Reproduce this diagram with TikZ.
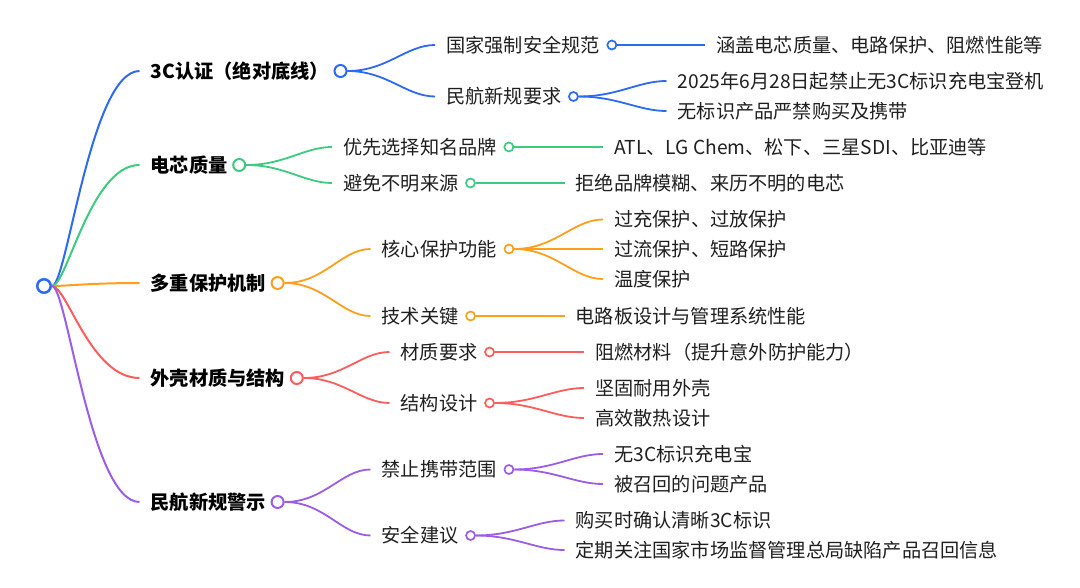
\documentclass[tikz,border=0pt]{standalone}
\usepackage{fontspec}
\setmainfont{Noto Sans CJK SC}
\usepackage{tikz}
\usetikzlibrary{positioning}
\usepackage{xcolor}

\definecolor{mmblue}{HTML}{2A6AF5}
\definecolor{mmgreen}{HTML}{3CCB7F}
\definecolor{mmorange}{HTML}{FF9F1C}
\definecolor{mmred}{HTML}{FF5C5C}
\definecolor{mmpurple}{HTML}{9B5CE6}

\tikzset{
  txt/.style={inner sep=0pt, anchor=west, text height=16.7pt, text depth=2.5pt,
    text=black!88, font=\fontsize{19.2}{22}\selectfont},
  head/.style={txt, text=black, font=\fontsize{19.2}{22}\selectfont\bfseries},
  knot/.style={circle, draw, fill=white, inner sep=0pt, minimum size=12pt, line width=2pt},
  dot/.style={circle, draw, fill=white, inner sep=0pt, minimum size=9pt, line width=1.7pt},
  link/.style={line width=1.8pt, shorten >=11pt},
  twig/.style={out=0, in=180}
}

\begin{document}
\begin{tikzpicture}[x=1pt,y=-1pt]
\useasboundingbox (0,0) rectangle (1080,588);
\node[knot, draw=mmblue, minimum size=13.5pt, line width=2.5pt] (root) at (44,286) {};
% main branches
\node[head] (cert) at (150.5,71) {3C认证（绝对底线）};
\node[head] (cell) at (150.5,165) {电芯质量};
\node[head] (prot) at (150.5,283) {多重保护机制};
\node[head] (shell) at (150.5,378) {外壳材质与结构};
\node[head] (rule) at (150.5,502) {民航新规警示};
\node[knot, draw=mmblue, right=4.5pt of cert] (certo) {};
\node[knot, draw=mmgreen, right=4.5pt of cell] (cello) {};
\node[knot, draw=mmorange, right=4.5pt of prot] (proto) {};
\node[knot, draw=mmred, right=4.5pt of shell] (shello) {};
\node[knot, draw=mmpurple, right=4.5pt of rule] (ruleo) {};
\draw[link, line width=2pt, mmblue] (root.east) .. controls +(15,0) and +(-60,0) .. (cert.west);
\draw[link, line width=2pt, mmgreen] (root.east) .. controls +(15,0) and +(-60,0) .. (cell.west);
\draw[link, line width=2pt, mmorange] (root.east) .. controls +(15,0) and +(-60,0) .. (prot.west);
\draw[link, line width=2pt, mmred] (root.east) .. controls +(15,0) and +(-60,0) .. (shell.west);
\draw[link, line width=2pt, mmpurple] (root.east) .. controls +(15,0) and +(-60,0) .. (rule.west);

% 3C
\node[txt] (std) at (446,45) {国家强制安全规范};
\node[txt] (caac) at (446,96.5) {民航新规要求};
\node[dot, draw=mmblue, right=6.5pt of std] (stdo) {};
\node[dot, draw=mmblue, right=6.5pt of caac] (caaco) {};
\node[txt] (cover) at (716,45) {涵盖电芯质量、电路保护、阻燃性能等};
\node[txt] (ban) at (677.5,81) {2025年6月28日起禁止无3C标识充电宝登机};
\node[txt] (nobuy) at (677.5,111) {无标识产品严禁购买及携带};
\draw[link, mmblue] (certo.east) to[twig] (std.west);
\draw[link, mmblue] (certo.east) to[twig] (caac.west);
\draw[link, mmblue] (stdo.east) to[twig] (cover.west);
\draw[link, mmblue] (caaco.east) to[twig] (ban.west);
\draw[link, mmblue] (caaco.east) to[twig] (nobuy.west);

% cells
\node[txt] (brand) at (343,147) {优先选择知名品牌};
\node[txt] (avoid) at (343,183) {避免不明来源};
\node[dot, draw=mmgreen, right=6.5pt of brand] (brando) {};
\node[dot, draw=mmgreen, right=6.5pt of avoid] (avoido) {};
\node[txt] (makers) at (614,147) {ATL、LG Chem、松下、三星SDI、比亚迪等};
\node[txt] (reject) at (575.5,183) {拒绝品牌模糊、来历不明的电芯};
\draw[link, mmgreen] (cello.east) to[twig] (brand.west);
\draw[link, mmgreen] (cello.east) to[twig] (avoid.west);
\draw[link, mmgreen] (brando.east) to[twig] (makers.west);
\draw[link, mmgreen] (avoido.east) to[twig] (reject.west);

% protection
\node[txt] (core) at (381.5,249) {核心保护功能};
\node[txt] (key) at (381.5,316) {技术关键};
\node[dot, draw=mmorange, right=6.5pt of core] (coreo) {};
\node[dot, draw=mmorange, right=6.5pt of key] (keyo) {};
\node[txt] (charge) at (614,219.5) {过充保护、过放保护};
\node[txt] (current) at (614,249) {过流保护、短路保护};
\node[txt] (temp) at (614,279) {温度保护};
\node[txt] (board) at (575.5,316) {电路板设计与管理系统性能};
\draw[link, mmorange] (proto.east) to[twig] (core.west);
\draw[link, mmorange] (proto.east) to[twig] (key.west);
\draw[link, mmorange] (coreo.east) to[twig] (charge.west);
\draw[link, mmorange] (coreo.east) to[twig] (current.west);
\draw[link, mmorange] (coreo.east) to[twig] (temp.west);
\draw[link, mmorange] (keyo.east) to[twig] (board.west);

% shell
\node[txt] (mat) at (400.5,352) {材质要求};
\node[txt] (struct) at (400.5,403) {结构设计};
\node[dot, draw=mmred, right=6.5pt of mat] (mato) {};
\node[dot, draw=mmred, right=6.5pt of struct] (structo) {};
\node[txt] (flame) at (595,352) {阻燃材料（提升意外防护能力）};
\node[txt] (solid) at (595,388) {坚固耐用外壳};
\node[txt] (heat) at (595,418) {高效散热设计};
\draw[link, mmred] (shello.east) to[twig] (mat.west);
\draw[link, mmred] (shello.east) to[twig] (struct.west);
\draw[link, mmred] (mato.east) to[twig] (flame.west);
\draw[link, mmred] (structo.east) to[twig] (solid.west);
\draw[link, mmred] (structo.east) to[twig] (heat.west);

% rules
\node[txt] (scope) at (381.5,469.5) {禁止携带范围};
\node[txt] (advice) at (381.5,535.5) {安全建议};
\node[dot, draw=mmpurple, right=6.5pt of scope] (scopeo) {};
\node[dot, draw=mmpurple, right=6.5pt of advice] (adviceo) {};
\node[txt] (nomark) at (614,454) {无3C标识充电宝};
\node[txt] (recall) at (614,484) {被召回的问题产品};
\node[txt] (check) at (575.5,520.5) {购买时确认清晰3C标识};
\node[txt] (follow) at (575.5,550) {定期关注国家市场监督管理总局缺陷产品召回信息};
\draw[link, mmpurple] (ruleo.east) to[twig] (scope.west);
\draw[link, mmpurple] (ruleo.east) to[twig] (advice.west);
\draw[link, mmpurple] (scopeo.east) to[twig] (nomark.west);
\draw[link, mmpurple] (scopeo.east) to[twig] (recall.west);
\draw[link, mmpurple] (adviceo.east) to[twig] (check.west);
\draw[link, mmpurple] (adviceo.east) to[twig] (follow.west);
\end{tikzpicture}
\end{document}
